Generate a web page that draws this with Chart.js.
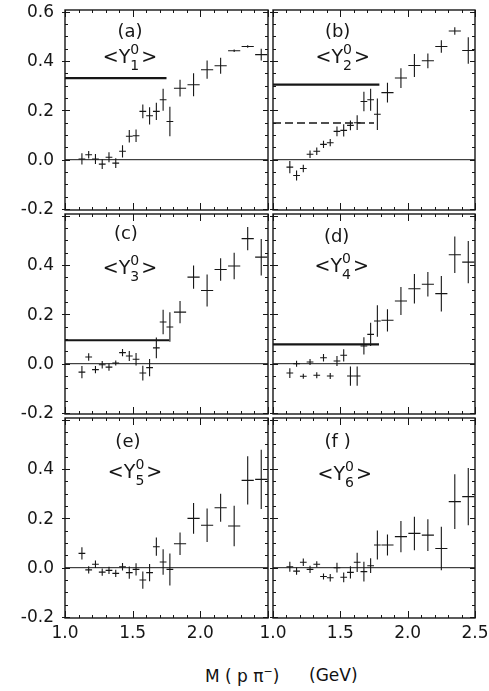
<!DOCTYPE html>
<html>
<head>
<meta charset="utf-8">
<script src="https://cdn.jsdelivr.net/npm/chart.js@4.4.0/dist/chart.umd.min.js"></script>
<style>
  body { margin: 0; background: #fff; }
  #wrap { position: relative; width: 489px; height: 691px; overflow: hidden; background: #fff; }
  canvas { position: absolute; }
  .xt { position: absolute; font-family: 'DejaVu Sans', sans-serif; font-size: 17px; color: #111; white-space: pre; }
</style>
</head>
<body>
<div id="wrap">
  <div class="xt" style="left:205px; top:665px;">M ( p π<sup style="font-size:11px">−</sup>)</div>
  <div class="xt" style="left:309px; top:665px;">(GeV)</div>
</div>
<script>
// bin centres of M(p pi-) in GeV, shared by all six panels
const mass = [1.125, 1.175, 1.225, 1.275, 1.325, 1.375, 1.425, 1.475, 1.525, 1.575, 1.625,
              1.675, 1.725, 1.775, 1.85, 1.95, 2.05, 2.15, 2.25, 2.35, 2.45];
const massHalfWidth = [0.025, 0.025, 0.025, 0.025, 0.025, 0.025, 0.025, 0.025, 0.025, 0.025, 0.025,
                       0.025, 0.025, 0.025, 0.045, 0.045, 0.045, 0.045, 0.045, 0.045, 0.045];

// <Y_L^0> moments
const y1 = [0.003, 0.02, 0.003, -0.018, 0.01, -0.014, 0.034, 0.095, 0.097, 0.196, 0.178,
            0.196, 0.243, 0.155, 0.29, 0.304, 0.365, 0.381, 0.442, 0.459, 0.426];
const y1Err = [0.023, 0.015, 0.02, 0.02, 0.02, 0.02, 0.025, 0.025, 0.025, 0.028, 0.035,
               0.035, 0.045, 0.06, 0.034, 0.047, 0.037, 0.032, 0.005, 0.005, 0.024];
const y2 = [-0.03, -0.064, -0.036, 0.022, 0.034, 0.062, 0.069, 0.115, 0.119, 0.139, 0.15,
            0.236, 0.243, 0.184, 0.272, 0.331, 0.382, 0.401, 0.459, 0.522, 0.443];
const y2Err = [0.025, 0.02, 0.015, 0.015, 0.015, 0.015, 0.015, 0.02, 0.025, 0.02, 0.03,
               0.04, 0.045, 0.064, 0.04, 0.04, 0.047, 0.03, 0.025, 0.015, 0.054];
const y3 = [-0.034, 0.027, -0.024, -0.004, -0.014, 0.003, 0.045, 0.031, 0.018, -0.038, -0.016,
            0.064, 0.169, 0.149, 0.209, 0.351, 0.297, 0.382, 0.396, 0.507, 0.432];
const y3Err = [0.025, 0.015, 0.015, 0.015, 0.015, 0.01, 0.015, 0.02, 0.025, 0.03, 0.035,
               0.042, 0.05, 0.06, 0.045, 0.047, 0.065, 0.046, 0.054, 0.047, 0.074];
const y4 = [-0.038, 0.0, -0.051, 0.007, -0.047, 0.024, -0.05, 0.011, 0.034, -0.05, -0.05,
            0.072, 0.119, 0.173, 0.176, 0.254, 0.304, 0.322, 0.284, 0.442, 0.412];
const y4Err = [0.02, 0.012, 0.01, 0.012, 0.012, 0.015, 0.012, 0.02, 0.025, 0.039, 0.039,
               0.035, 0.047, 0.064, 0.045, 0.057, 0.06, 0.05, 0.072, 0.074, 0.086];
const y5 = [0.058, -0.009, 0.014, -0.018, -0.011, -0.023, 0.004, -0.02, -0.007, -0.05, -0.02,
            0.085, 0.023, -0.007, 0.097, 0.2, 0.172, 0.243, 0.169, 0.354, 0.358];
const y5Err = [0.025, 0.015, 0.015, 0.015, 0.015, 0.015, 0.015, 0.025, 0.025, 0.035, 0.035,
               0.037, 0.052, 0.065, 0.046, 0.062, 0.068, 0.057, 0.082, 0.098, 0.12];
const y6 = [0.004, -0.014, 0.022, -0.007, 0.014, -0.036, -0.041, 0.0, -0.039, -0.019, 0.022,
            -0.016, 0.008, 0.092, 0.092, 0.126, 0.139, 0.132, 0.078, 0.268, 0.288];
const y6Err = [0.02, 0.015, 0.015, 0.015, 0.012, 0.012, 0.015, 0.02, 0.02, 0.025, 0.039,
               0.04, 0.03, 0.059, 0.043, 0.063, 0.068, 0.064, 0.088, 0.111, 0.116];

// horizontal reference levels drawn in panels a-d
const solidLevel = [0.331, 0.304, 0.095, 0.078, null, null];
const solidEnd = [1.75, 1.79, 1.77, 1.787, null, null];
const dashLevel = [null, 0.149, null, null, null, null];
const dashEnd = [null, 1.75, null, null, null, null];

const xTickValues = [1.0, 1.5, 2.0, 2.5];
const xTickLabels = ['1.0', '1.5', '2.0', '2.5'];
const yTickValues = [-0.2, 0.0, 0.2, 0.4, 0.6];
const yTickLabels = ['-0.2', '0.0', '0.2', '0.4', '0.6'];

const panelTags = ['(a)', '(b)', '(c)', '(d)', '(e)', '(f )'];
const panelL = ['1', '2', '3', '4', '5', '6'];
const panelY = [y1, y2, y3, y4, y5, y6];
const panelErr = [y1Err, y2Err, y3Err, y4Err, y5Err, y6Err];

// layout
const colX = [65, 273], colW = [203, 202];
const rowY = [10, 214, 418], boxH = 200;
const tagPos = [[0.32, 22, 0.32, 48], [0.32, 22, 0.345, 48], [0.30, 20, 0.32, 55],
                [0.315, 23, 0.34, 53], [0.31, 24, 0.345, 55], [0.32, 24, 0.355, 57]];
const ink = '#161616';
const labelFont = '17px "DejaVu Sans"';

const errorBars = {
  id: 'errorBars',
  afterDatasetsDraw(chart) {
    const { ctx, chartArea: a } = chart;
    const xs = chart.scales.x, ys = chart.scales.y;
    ctx.save();
    ctx.beginPath(); ctx.rect(a.left, a.top, a.right - a.left, a.bottom - a.top); ctx.clip();
    ctx.strokeStyle = ink; ctx.lineWidth = 1.1;
    chart.data.datasets.forEach(ds => {
      if (!ds.errY) return;
      ds.data.forEach((p, i) => {
        const px = xs.getPixelForValue(p.x), py = ys.getPixelForValue(p.y);
        ctx.beginPath();
        ctx.moveTo(px, ys.getPixelForValue(p.y - ds.errY[i]));
        ctx.lineTo(px, ys.getPixelForValue(p.y + ds.errY[i]));
        ctx.moveTo(xs.getPixelForValue(p.x - ds.errX[i]), py);
        ctx.lineTo(xs.getPixelForValue(p.x + ds.errX[i]), py);
        ctx.stroke();
      });
    });
    ctx.restore();
  }
};

// box, inward ticks and tick labels
const frame = {
  id: 'frame',
  afterDraw(chart) {
    const { ctx, chartArea: a } = chart;
    const xs = chart.scales.x, ys = chart.scales.y;
    const { col, row } = chart.options.panelPos;
    ctx.save();
    ctx.strokeStyle = ink; ctx.lineWidth = 1.4;
    ctx.strokeRect(a.left, a.top, a.right - a.left, a.bottom - a.top);
    ctx.lineWidth = 1;
    ctx.beginPath();
    for (let k = -4; k <= 12; k++) {
      const py = Math.round(ys.getPixelForValue(k * 0.05)) + 0.5;
      if (py < a.top || py > a.bottom) continue;
      const len = k % 4 === 0 ? 5 : 3;
      ctx.moveTo(a.left, py); ctx.lineTo(a.left + len, py);
      ctx.moveTo(a.right, py); ctx.lineTo(a.right - len, py);
      if (k % 4 === 0) { ctx.moveTo(a.left - 3, py); ctx.lineTo(a.left, py); }
    }
    for (let k = 10; k <= 25; k++) {
      const px = Math.round(xs.getPixelForValue(k * 0.1)) + 0.5;
      const len = k % 5 === 0 ? 7 : 3;
      ctx.moveTo(px, a.bottom); ctx.lineTo(px, a.bottom - len);
      ctx.moveTo(px, a.top); ctx.lineTo(px, a.top + len);
    }
    ctx.stroke();

    ctx.fillStyle = ink;
    ctx.font = labelFont;
    if (col === 0) {
      ctx.textAlign = 'right'; ctx.textBaseline = 'middle';
      yTickValues.forEach((v, k) => {
        if (row > 0 && k === 4) return;
        ctx.fillText(yTickLabels[k], a.left - 11, ys.getPixelForValue(v) + 1);
      });
    }
    if (row === 2) {
      ctx.textAlign = 'center'; ctx.textBaseline = 'top';
      xTickValues.forEach((v, k) => {
        if (col === 0 && k === 3) return;
        ctx.fillText(xTickLabels[k], xs.getPixelForValue(v), a.bottom + 7);
      });
    }
    ctx.restore();
  }
};

const tags = {
  id: 'tags',
  afterDraw(chart) {
    const i = chart.options.panelIndex;
    const { ctx, chartArea: a } = chart;
    const w = a.right - a.left;
    const [fx1, dy1, fx2, dy2] = tagPos[i];
    ctx.save();
    ctx.fillStyle = ink;
    ctx.textBaseline = 'middle';
    ctx.textAlign = 'center';
    ctx.font = '18px "DejaVu Sans"';
    ctx.fillText(panelTags[i], a.left + fx1 * w, a.top + dy1);
    // <Y_L^0>
    ctx.textAlign = 'left';
    const big = '19px "DejaVu Sans"', small = '14px "DejaVu Sans"';
    ctx.font = big;
    const wl = ctx.measureText('<').width, wy = ctx.measureText('Y').width, wr = ctx.measureText('>').width;
    ctx.font = small;
    const ws = Math.max(ctx.measureText('0').width, ctx.measureText(panelL[i]).width);
    const total = wl + wy + ws + wr + 2;
    let x = a.left + fx2 * w - total / 2;
    const cy = a.top + dy2;
    ctx.font = big;
    ctx.fillText('<', x, cy); x += wl;
    ctx.fillText('Y', x, cy); x += wy;
    ctx.font = small;
    ctx.fillText('0', x, cy - 8);
    ctx.fillText(panelL[i], x, cy + 8); x += ws + 2;
    ctx.font = big;
    ctx.fillText('>', x, cy);
    ctx.restore();
  }
};

const wrap = document.getElementById('wrap');
for (let i = 0; i < 6; i++) {
  const col = i % 2, row = Math.floor(i / 2);
  const L = col === 0 ? 65 : 30, R = 15, T = 12, B = row === 2 ? 30 : 6;
  const cv = document.createElement('canvas');
  const W = colW[col] + L + R, H = boxH + T + B;
  cv.width = W; cv.height = H;
  cv.style.left = (colX[col] - L) + 'px';
  cv.style.top = (rowY[row] - T) + 'px';
  cv.style.width = W + 'px'; cv.style.height = H + 'px';
  wrap.appendChild(cv);

  const datasets = [
    { data: [{ x: 1.0, y: 0 }, { x: 2.5, y: 0 }], showLine: true, borderColor: ink, borderWidth: 1, pointRadius: 0 },
    { data: mass.map((m, k) => ({ x: m, y: panelY[i][k] })), errY: panelErr[i], errX: massHalfWidth,
      showLine: false, pointRadius: 0 }
  ];
  if (solidLevel[i] !== null) {
    datasets.push({ data: [{ x: 1.0, y: solidLevel[i] }, { x: solidEnd[i], y: solidLevel[i] }],
      showLine: true, borderColor: ink, borderWidth: 2.2, pointRadius: 0 });
  }
  if (dashLevel[i] !== null) {
    datasets.push({ data: [{ x: 1.0, y: dashLevel[i] }, { x: dashEnd[i], y: dashLevel[i] }],
      showLine: true, borderColor: ink, borderWidth: 1.6, borderDash: [8, 4], pointRadius: 0 });
  }

  new Chart(cv, {
    type: 'scatter',
    data: { datasets },
    options: {
      panelIndex: i,
      panelPos: { col, row },
      responsive: false,
      animation: false,
      devicePixelRatio: 1,
      layout: { padding: { top: T, right: R, left: 0, bottom: 0 }, autoPadding: false },
      plugins: { legend: { display: false }, tooltip: { enabled: false } },
      scales: {
        x: {
          type: 'linear', min: 1.0, max: 2.5,
          afterFit: s => { s.height = B; },
          grid: { display: false, drawTicks: false },
          border: { display: false },
          ticks: { display: false }
        },
        y: {
          type: 'linear', min: -0.204, max: 0.607,
          afterFit: s => { s.width = L; },
          grid: { display: false, drawTicks: false },
          border: { display: false },
          ticks: { display: false }
        }
      }
    },
    plugins: [errorBars, frame, tags]
  });
}
</script>
</body>
</html>
